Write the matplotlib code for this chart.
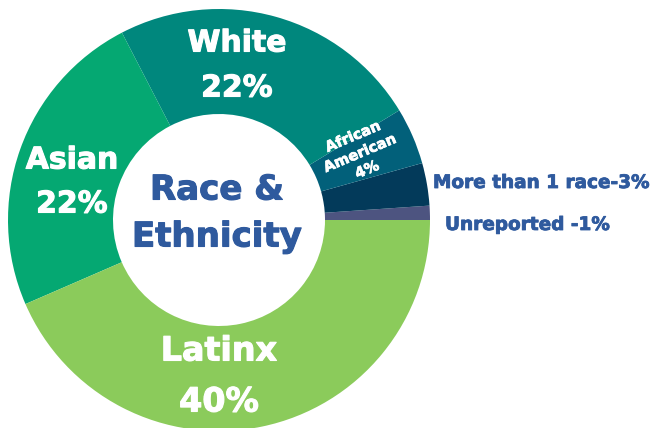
import matplotlib.pyplot as plt
import matplotlib.patheffects as pe

# slices in drawing order (counter-clockwise from 3 o'clock)
groups = ['Unreported', 'More than 1 race', 'African American', 'White', 'Asian', 'Latinx']
shares = [1, 3, 4, 22, 22, 40]
colors = ['#4d5480', '#033a5a', '#02607a', '#00877d', '#05a872', '#8bcb5b']

blue = '#2f5a9e'
font = ['DejaVu Sans']


def heavy(color, w=0.8):
    # thicken the bold glyphs a little
    return [pe.Stroke(linewidth=w, foreground=color), pe.Normal()]


def main():
    fig = plt.figure(figsize=(6.5, 4.28), dpi=100)
    ax = fig.add_axes([0, 0, 1, 1])

    ax.pie(shares, colors=colors, startangle=0, counterclock=True,
           radius=211, center=(219, 208),
           wedgeprops=dict(width=105, edgecolor='none', linewidth=0))
    ax.set_xlim(0, 650)
    ax.set_ylim(0, 428)
    ax.set_aspect('equal')
    ax.axis('off')

    big = dict(color='white', fontweight='bold', family=font, ha='center', va='center',
               path_effects=heavy('white'))
    ax.text(237, 385, 'White', fontsize=21.5, **big)
    ax.text(237, 340, f'{shares[3]}%', fontsize=21.5, **big)
    ax.text(72, 268, 'Asian', fontsize=21.5, **big)
    ax.text(72, 224, f'{shares[4]}%', fontsize=21.5, **big)
    ax.text(219, 77, 'Latinx', fontsize=24, **big)
    ax.text(219, 26, f'{shares[5]}%', fontsize=24, **big)

    ax.text(360, 275, f'African\nAmerican\n{shares[2]}%', fontsize=10.5,
            rotation=23, linespacing=1.25, rotation_mode='anchor', color='white',
            fontweight='bold', family=font, ha='center', va='center',
            path_effects=heavy('white', 0.5))

    mid = dict(color=blue, fontweight='bold', family=font, ha='center', va='center',
               path_effects=heavy(blue))
    ax.text(217, 238, 'Race &', fontsize=24.5, **mid)
    ax.text(217, 191, 'Ethnicity', fontsize=24.5, **mid)

    side = dict(color=blue, fontweight='bold', family=font, ha='left', va='center',
                fontsize=13.3, path_effects=heavy(blue, 0.6))
    ax.text(433, 245, f'More than 1 race-{shares[1]}%', **side)
    ax.text(445, 203, f'Unreported -{shares[0]}%', **side)

    fig.savefig('out.png', dpi=100)


if __name__ == '__main__':
    main()
